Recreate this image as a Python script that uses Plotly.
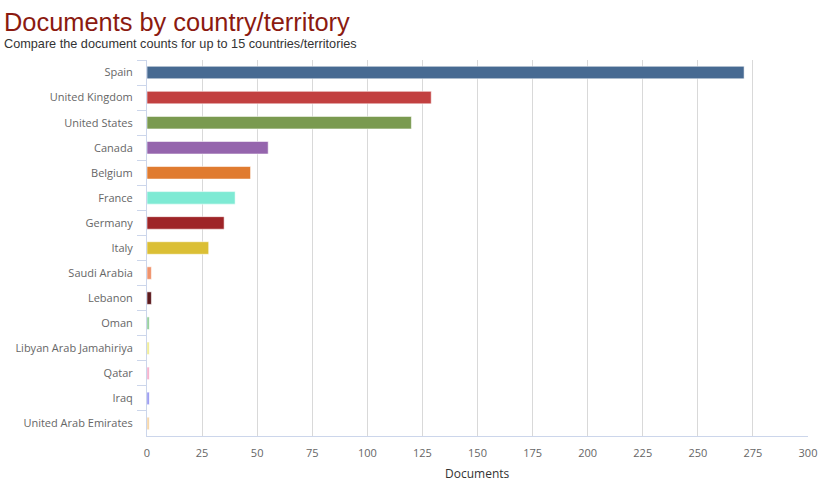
import plotly.graph_objects as go

countries = ["Spain", "United Kingdom", "United States", "Canada", "Belgium", "France",
             "Germany", "Italy", "Saudi Arabia", "Lebanon", "Oman", "Libyan Arab Jamahiriya",
             "Qatar", "Iraq", "United Arab Emirates"]
documents = [271, 129, 120, 55, 47, 40, 35, 28, 2, 2, 1, 1, 1, 1, 1]
colors = ["#476a92", "#c24040", "#7a9a50", "#9565ad", "#e07b30", "#7eead4", "#9e2427",
          "#dbbf35", "#f0936c", "#5c1a1e", "#86c88e", "#eeea88", "#f4a6c6", "#8c8cf0", "#f5d09c"]
x_ticks = [0, 25, 50, 75, 100, 125, 150, 175, 200, 225, 250, 275, 300]

fig = go.Figure()
fig.add_trace(go.Bar(
    x=documents, y=countries, orientation="h",
    marker=dict(color=colors, line=dict(color="rgba(255,255,255,0.55)", width=1)),
    width=0.5, showlegend=False,
))

fig.update_layout(
    width=820, height=481,
    margin=dict(l=147, r=12, t=60, b=45),
    plot_bgcolor="white", paper_bgcolor="white",
    font=dict(family="Open Sans, sans-serif", size=11, color="#666666"),
    annotations=[
        dict(text="Documents by country/territory", xref="paper", yref="paper",
             x=0, y=1, xanchor="left", yanchor="bottom", xshift=-145, yshift=22,
             showarrow=False,
             font=dict(family="Liberation Sans, Arial, sans-serif", size=25.4, color="#8b1a10")),
        dict(text="Compare the document counts for up to 15 countries/territories",
             xref="paper", yref="paper", x=0, y=1, xanchor="left", yanchor="bottom",
             xshift=-145, yshift=7, showarrow=False,
             font=dict(family="Liberation Sans, Arial, sans-serif", size=12.7, color="#333333")),
        dict(text="Documents", xref="paper", yref="paper", x=0.5, y=0,
             xanchor="center", yanchor="top", yshift=-27, showarrow=False,
             font=dict(family="Open Sans, sans-serif", size=12, color="#333333")),
    ],
)
fig.update_xaxes(
    range=[0, 300], tickvals=x_ticks, ticktext=[str(v) for v in x_ticks],
    showgrid=True, gridcolor="#d9d9d9", gridwidth=1,
    zeroline=False, showline=True, linecolor="#ccd6eb", linewidth=1,
    ticks="", tickfont=dict(size=11, color="#666666"), automargin=False,
    ticklabelstandoff=7,
)
fig.update_yaxes(
    autorange="reversed", type="category", automargin=False,
    showgrid=False, zeroline=False, showline=True, linecolor="#ccd6eb", linewidth=1,
    ticks="outside", tickson="boundaries", ticklen=9, tickcolor="#ccd6eb", tickwidth=1,
    ticklabelstandoff=11,
    tickfont=dict(size=11, color="#666666"),
)
fig.write_html("out.html", config={"displayModeBar": False},
               post_script="document.body.style.margin='0';")
